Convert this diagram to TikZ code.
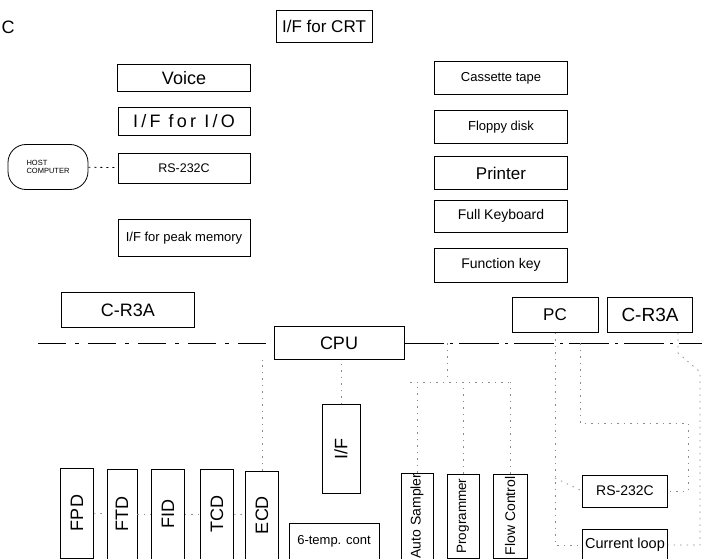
\documentclass[tikz,border=0pt]{standalone}
\usepackage{fontspec}
\setmainfont{Liberation Sans}
\newcommand\fsz[1]{\fontsize{#1}{#1}\selectfont}
\tikzset{
  box/.style={draw, line width=0.8pt, inner sep=0pt},
  vbox/.style={box, rotate=90},
  bus/.style={line width=0.9pt, dash pattern=on 40pt off 6pt on 3pt off 6pt},
  busleft/.style={line width=0.7pt, dash pattern=on 28pt off 9pt on 4pt off 9pt},
  faint/.style={black!45, line width=0.7pt, dash pattern=on 1.5pt off 5pt},
  hostlink/.style={line width=0.8pt, dash pattern=on 2pt off 4pt}
}
\begin{document}
\begin{tikzpicture}[x=1pt,y=-1pt]
\useasboundingbox (0,0) rectangle (702,559);

\node[font=\fsz{18}] (frag) at (8,27) {C};

% upper units
\node[box, minimum width=96, minimum height=32, font=\fsz{17}] (crt) at (324,26) {I/F for CRT};
\node[box, minimum width=133, minimum height=27, font=\fsz{18}] (voice) at (184,78) {Voice};
\node[box, minimum width=132, minimum height=28, font=\fsz{18}\addfontfeature{LetterSpace=18}] (ifio) at (184,121) {I/F for I/O};
\node[box, minimum width=132, minimum height=30, font=\fsz{12.5}] (rsl) at (184,168) {RS-232C};
\node[box, minimum width=132, minimum height=37, font=\fsz{13}] (peak) at (184,238) {I/F for peak memory};
\node[draw, line width=0.8pt, rounded corners=18pt, minimum width=80, minimum height=45,
      align=left, font=\fsz{7.5}] (host) at (48,167) {HOST\\COMPUTER};

\node[box, minimum width=133, minimum height=33, font=\fsz{13}] (tape) at (501,78) {Cassette tape};
\node[box, minimum width=133, minimum height=33, font=\fsz{13}] (floppy) at (501,127) {Floppy disk};
\node[box, minimum width=133, minimum height=33, font=\fsz{17}] (printer) at (501,173) {Printer};
\node[box, minimum width=133, minimum height=32, font=\fsz{14}] (keyb) at (501,216) {Full Keyboard};
\node[box, minimum width=133, minimum height=34, font=\fsz{14}] (fkey) at (501,265) {Function key};

% bus level
\node[box, minimum width=133, minimum height=35, font=\fsz{18}] (crl) at (128,310) {C-R3A};
\node[box, minimum width=130, minimum height=33, font=\fsz{18}] (cpu) at (339,343) {CPU};
\node[box, minimum width=86, minimum height=35, font=\fsz{17}] (pc) at (555,315) {PC};
\node[box, minimum width=85, minimum height=35, font=\fsz{19}] (crr) at (650,315) {C-R3A};

\coordinate (busl) at (38,343);
\coordinate (busr) at (702,343);
\draw[busleft] (busl) -- (cpu.west);
\draw[bus] (cpu.east) -- (busr);

% lower units
\node[vbox, minimum width=89, minimum height=38, font=\fsz{18}] (ifb) at (341,449) {I/F};
\node[vbox, minimum width=90, minimum height=33, font=\fsz{18}] (fpd) at (77,513) {FPD};
\node[vbox, minimum width=90, minimum height=30, font=\fsz{18}] (ftd) at (122,514) {FTD};
\node[vbox, minimum width=90, minimum height=33, font=\fsz{18}] (fid) at (168,514) {FID};
\node[vbox, minimum width=90, minimum height=33, font=\fsz{18}] (tcd) at (217,514) {TCD};
\node[vbox, minimum width=88, minimum height=33, font=\fsz{18}] (ecd) at (262,515) {ECD};
\node[box, minimum width=90, minimum height=36, font=\fsz{13}] (temp) at (334,541) {6-temp. cont};
\node[vbox, minimum width=86, minimum height=32, font=\fsz{14}] (auto) at (417,516) {Auto Sampler};
\node[vbox, minimum width=84, minimum height=32, font=\fsz{13.5}] (prog) at (463,516) {Programmer};
\node[vbox, minimum width=84, minimum height=34, font=\fsz{14}] (flow) at (510,516) {Flow Control};
\node[box, minimum width=85, minimum height=32, font=\fsz{14}] (rsr) at (625,491) {RS-232C};
\node[box, minimum width=85, minimum height=31, font=\fsz{14.5}] (loop) at (625,545) {Current loop};

% links
\draw[hostlink] (host) -- (rsl);
\draw[faint] (ifb.east) -- (ifb.east |- cpu.south);
\draw[faint] (ecd.east) -- (ecd.east |- cpu.south);
\draw[faint] (fpd) -- (ftd);
\draw[faint] (ftd) -- (fid);
\draw[faint] (fid) -- (tcd);
\draw[faint] (tcd) -- (ecd);

\coordinate (ga) at (410,382);
\coordinate (gb) at (512,382);
\coordinate (gc) at (447,343);
\draw[faint] (ga) -- (gb);
\draw[faint] (gc) -- (gc |- ga);
\draw[faint] (auto.east) -- (auto.east |- ga);
\draw[faint] (prog.east) -- (prog.east |- ga);
\draw[faint] (flow.east) -- (flow.east |- ga);

\coordinate (ta) at (580,343);
\coordinate (tb) at (688,423);
\coordinate (td) at (555,478);
\draw[faint] (ta) |- (tb) |- (rsr.east);
\draw[faint] (pc.south) -- (td) |- (loop.west);
\draw[faint] (td) -- (rsr.west);
\coordinate (k1) at (700,372);
\draw[faint] ([xshift=28]crr.south) -- ++(0,20) -- (k1) |- (loop.east);
\end{tikzpicture}
\end{document}
